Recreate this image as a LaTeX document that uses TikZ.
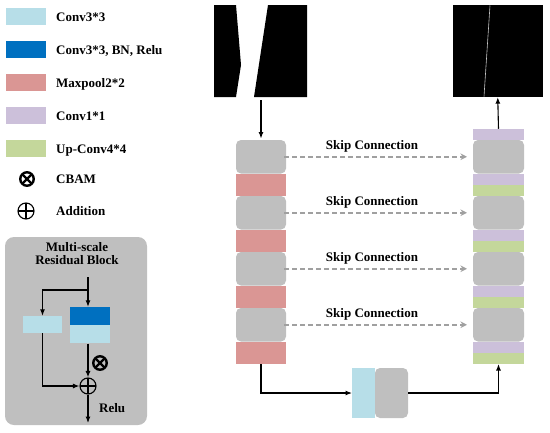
\documentclass[tikz,border=0pt]{standalone}
\usepackage{fontspec}
\setmainfont{Liberation Serif}
\usetikzlibrary{arrows.meta,positioning}

\definecolor{convblue}{HTML}{B7DEE8}
\definecolor{bnblue}{HTML}{0070C0}
\definecolor{poolred}{HTML}{DA9694}
\definecolor{onepurple}{HTML}{CCC0DA}
\definecolor{upgreen}{HTML}{C4D79B}
\definecolor{featgray}{HTML}{BFBFBF}
\definecolor{skipgray}{HTML}{A0A0A0}

\begin{document}
\begin{tikzpicture}[
  x=1pt, y=-1pt,
  font=\fontsize{13}{15}\selectfont\bfseries,
  >=Latex,
  node distance=0pt,
  blk/.style={inner sep=0pt, outer sep=0pt, minimum width=50pt},
  feat/.style={blk, fill=featgray, rounded corners=5pt, minimum height=33.5pt},
  pool/.style={blk, fill=poolred, minimum height=22.5pt},
  onebyone/.style={blk, fill=onepurple, minimum height=11.25pt, minimum width=51pt},
  upconv/.style={blk, fill=upgreen, minimum height=11.25pt, minimum width=51pt},
  swatch/.style={inner sep=0pt, outer sep=0pt, minimum width=40pt, minimum height=17pt},
  lbl/.style={inner sep=0pt, text height=9pt, text depth=0pt},
  cbam/.style={circle, draw, line width=2.4pt, minimum size=13.5pt, inner sep=0pt,
    path picture={\draw[line width=2.4pt]
      (path picture bounding box.north west) -- (path picture bounding box.south east)
      (path picture bounding box.north east) -- (path picture bounding box.south west);}},
  addsym/.style={circle, draw, line width=1.1pt, minimum size=16pt, inner sep=0pt,
    path picture={\draw[line width=1.1pt]
      (path picture bounding box.north) -- (path picture bounding box.south)
      (path picture bounding box.west) -- (path picture bounding box.east);}},
  arr/.style={-{Latex[length=6.5pt,width=5pt]}, line width=1.1pt},
  skip/.style={-{Stealth[length=6.5pt,width=6.5pt]}, draw=skipgray, line width=2.5pt,
    dash pattern=on 5pt off 3pt, shorten <=-2pt, shorten >=6pt}
]
  \useasboundingbox (0,0) rectangle (550,432);

  % legend
  \node[swatch, fill=convblue] (lg1) at (26,16.5) {};
  \node[swatch, fill=bnblue, below=16pt of lg1] (lg2) {};
  \node[swatch, fill=poolred, below=16pt of lg2] (lg3) {};
  \node[swatch, fill=onepurple, below=16pt of lg3] (lg4) {};
  \node[swatch, fill=upgreen, below=16pt of lg4] (lg5) {};
  \node[cbam] (lg6) at (27,179) {};
  \node[addsym] (lg7) at (26,211) {};
  \node[lbl, anchor=west] (lt1) at (56,16.5) {Conv3*3};
  \node[lbl, anchor=west] (lt2) at (56,49.5) {Conv3*3, BN, Relu};
  \node[lbl, anchor=west] (lt3) at (56,82.5) {Maxpool2*2};
  \node[lbl, anchor=west] (lt4) at (56,115.5) {Conv1*1};
  \node[lbl, anchor=west] (lt5) at (56,148.5) {Up-Conv4*4};
  \node[lbl, anchor=west] (lt6) at (56,179) {CBAM};
  \node[lbl, anchor=west] (lt7) at (56,211) {Addition};

  % multi-scale residual block
  \node[fill=featgray, rounded corners=9pt, minimum width=142pt, minimum height=188pt] (msrb) at (76,331) {};
  \node[align=center, inner sep=0pt] (msrbt) at (77,253.5) {Multi-scale\\[-2pt]Residual Block};
  \coordinate (min) at (88,277);
  \coordinate (split) at (88,290);
  \node[inner sep=0pt, fill=bnblue, minimum width=40pt, minimum height=18pt] (mbn) at (90,316) {};
  \node[inner sep=0pt, fill=convblue, minimum width=40pt, minimum height=18pt, below=of mbn] (mc2) {};
  \node[inner sep=0pt, fill=convblue, minimum width=39pt, minimum height=17pt] (mc1) at (42.5,324.5) {};
  \node[addsym] (madd) at (88,386) {};
  \node[cbam] (mcbam) at (100,363) {};
  \coordinate (mout) at (88,423);
  \node[lbl, anchor=west] (relu) at (99,408) {Relu};
  \draw[arr] (min) -- (split -| madd) -- (mbn.north -| madd);
  \draw[arr] (split) -| (mc1.north);
  \draw[arr] (mc2.south -| madd) -- (madd.north);
  \draw[arr] (mc1.south) |- (madd.west);
  \draw[arr] (madd.south) -- (mout);

  % input and output images
  \node[inner sep=0pt, minimum width=93pt, minimum height=92pt] (inimg) at (260.5,51) {};
  \fill (214,5) -- (236,5) -- (241,65) -- (236,97) -- (214,97) -- cycle;
  \fill (268,5) -- (307,5) -- (307,97) -- (254,97) -- cycle;
  \node[fill=black, inner sep=0pt, minimum width=90.5pt, minimum height=92pt] (outimg) at (497.75,51) {};
  \draw[gray!45, line width=0.6pt] (490,5.5) -- (484,96.5);

  % encoder
  \node[feat] (e1) at (261,156.75) {};
  \node[pool, below=of e1] (p1) {};
  \node[feat, below=of p1] (e2) {};
  \node[pool, below=of e2] (p2) {};
  \node[feat, below=of p2] (e3) {};
  \node[pool, below=of e3] (p3) {};
  \node[feat, below=of p3] (e4) {};
  \node[pool, below=of e4] (p4) {};

  % decoder
  \node[onebyone] (d0) at (498.5,134.375) {};
  \node[feat, minimum width=51pt, below=of d0] (f1) {};
  \node[onebyone, below=of f1] (c1) {};
  \node[upconv, below=of c1] (u1) {};
  \node[feat, minimum width=51pt, below=of u1] (f2) {};
  \node[onebyone, below=of f2] (c2) {};
  \node[upconv, below=of c2] (u2) {};
  \node[feat, minimum width=51pt, below=of u2] (f3) {};
  \node[onebyone, below=of f3] (c3) {};
  \node[upconv, below=of c3] (u3) {};
  \node[feat, minimum width=51pt, below=of u3] (f4) {};
  \node[onebyone, below=of f4] (c4) {};
  \node[upconv, below=of c4] (u4) {};

  % bottleneck
  \node[inner sep=0pt, outer sep=0pt, fill=convblue, minimum width=23pt, minimum height=50pt] (bconv) at (363.5,393) {};
  \node[inner sep=0pt, outer sep=0pt, fill=featgray, rounded corners=5pt, minimum width=33pt, minimum height=50pt, right=of bconv] (bfeat) {};

  % connectors
  \draw[arr, shorten <=3pt, shorten >=1.5pt] (e1.north |- inimg.south) -- (e1.north);
  \draw[arr] (d0.north) -- (outimg.south);
  \draw[skip] (e1.east) -- (f1.west) node[lbl, pos=0.46, above=6.5pt, text=black] {Skip Connection};
  \draw[skip] (e2.east) -- (f2.west) node[lbl, pos=0.46, above=6.5pt, text=black] {Skip Connection};
  \draw[skip] (e3.east) -- (f3.west) node[lbl, pos=0.46, above=6.5pt, text=black] {Skip Connection};
  \draw[skip] (e4.east) -- (f4.west) node[lbl, pos=0.46, above=6.5pt, text=black] {Skip Connection};
  \draw[arr] (p4.south) |- (bconv.west);
  \draw[arr] (bfeat.east) -| (u4.south);
\end{tikzpicture}
\end{document}
